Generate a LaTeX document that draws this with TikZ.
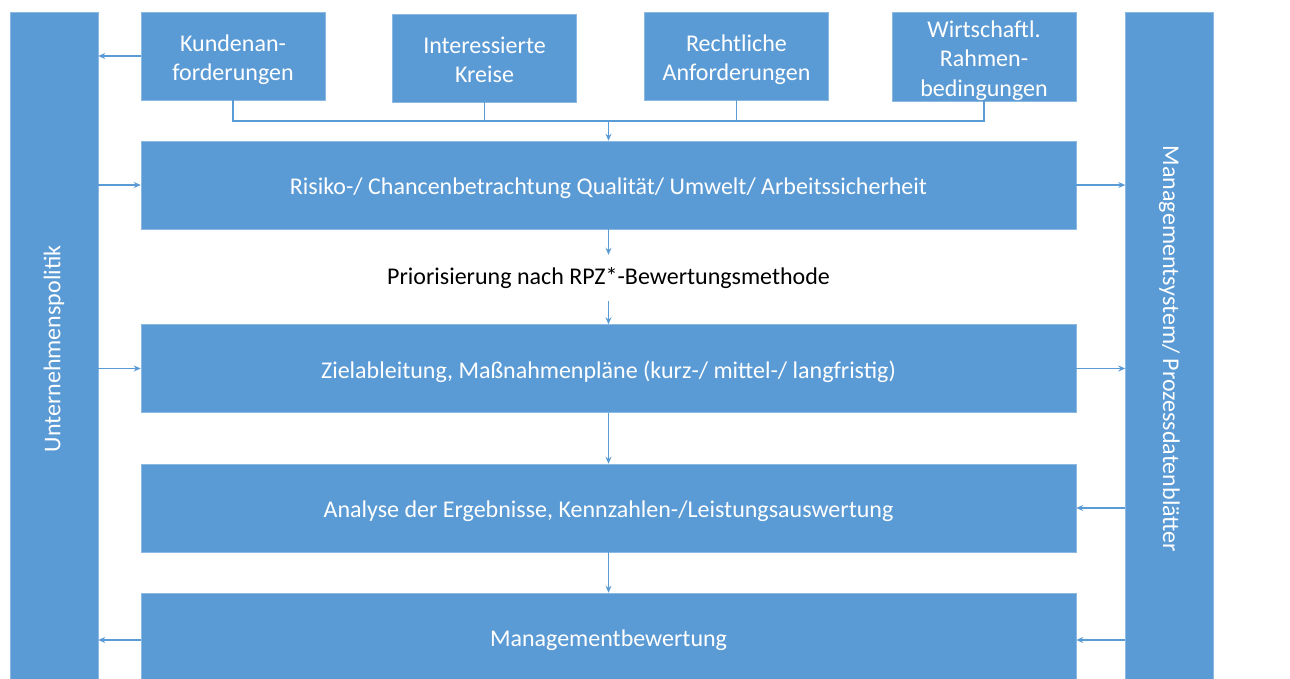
\documentclass[tikz,border=0pt]{standalone}
\usepackage{fontspec}
\setmainfont{Carlito}
\usetikzlibrary{arrows.meta}
\definecolor{boxblau}{HTML}{5B9BD5}
% Text im Kasten etwas tiefer setzen, Maße bleiben
\newcommand\tief[1]{\raisebox{-4pt}[\height][\depth]{\begin{tabular}{@{}c@{}}#1\end{tabular}}}
\begin{document}
\begin{tikzpicture}[x=1pt, y=-1pt, >={Stealth[length=7pt,width=6pt]},
  kasten/.style={fill=boxblau, draw=boxblau!70!white, line width=0.5pt, text=white,
    align=center, inner sep=0pt, font=\fontsize{24}{29.5}\selectfont},
  oben/.style={kasten, minimum width=184pt, minimum height=88pt},
  haupt/.style={kasten, minimum width=935pt, minimum height=88pt},
  balken/.style={kasten, minimum width=88pt, minimum height=674pt},
  pfeil/.style={draw=boxblau, line width=1.2pt}]

  \useasboundingbox (0,0) rectangle (1290,679);

  % --- Seitenbalken ---
  \node[balken] (politik) at (54,349) {\rotatebox{90}{Unternehmenspolitik}};
  \node[balken] (msys) at (1169.5,349) {\rotatebox{-90}{Managementsystem/ Prozessdatenblätter}};

  % --- obere Reihe ---
  \node[oben] (kunden) at (233,56) {\tief{Kundenan-\\forderungen}};
  \node[oben] (kreise) at (484.5,58) {\tief{Interessierte\\Kreise}};
  \node[oben] (recht) at (736.5,56) {\tief{Rechtliche\\Anforderungen}};
  \node[oben] (wirtschaft) at (984,57) {\tief{Wirtschaftl.\\Rahmen-\\bedingungen}};

  % --- Hauptkette ---
  \def\xm{608.5}
  \node[haupt] (risiko) at (\xm,185) {\tief{Risiko-/ Chancenbetrachtung Qualität/ Umwelt/ Arbeitssicherheit}};
  \node[font=\fontsize{24}{29}\selectfont, minimum height=46pt, inner sep=0pt] (prio) at (\xm,278)
    {Priorisierung nach RPZ*-Bewertungsmethode};
  \node[haupt] (ziel) at (\xm,368.5) {\tief{Zielableitung, Maßnahmenpläne (kurz-/ mittel-/ langfristig)}};
  \node[haupt] (analyse) at (\xm,508) {\tief{Analyse der Ergebnisse, Kennzahlen-/Leistungsauswertung}};
  \node[haupt, minimum height=94pt] (bewertung) at (\xm,640) {Managementbewertung};

  % --- Sammelleitung oben ---
  \coordinate (bus) at (\xm,121);
  \foreach \k in {kunden,kreise,recht,wirtschaft}
    \draw[pfeil] (\k.south) |- (bus);
  \draw[pfeil,->] (bus) -- (risiko.north);

  % --- senkrechte Pfeile ---
  \draw[pfeil,->] (risiko.south) -- (prio.north);
  \draw[pfeil,->] (prio.south) -- (ziel.north);
  \draw[pfeil,->] (ziel.south) -- (analyse.north);
  \draw[pfeil,->] (analyse.south) -- (bewertung.north);

  % --- waagerechte Pfeile ---
  \draw[pfeil,->] (kunden.west) -- (kunden.west -| politik.east);
  \draw[pfeil,->] (risiko.west -| politik.east) -- (risiko.west);
  \draw[pfeil,->] (risiko.east) -- (risiko.east -| msys.west);
  \draw[pfeil,->] (ziel.west -| politik.east) -- (ziel.west);
  \draw[pfeil,->] (ziel.east) -- (ziel.east -| msys.west);
  \draw[pfeil,->] (msys.west |- analyse.east) -- (analyse.east);
  \draw[pfeil,->] (msys.west |- bewertung.east) -- (bewertung.east);
  \draw[pfeil,->] (bewertung.west) -- (bewertung.west -| politik.east);

\end{tikzpicture}
\end{document}
